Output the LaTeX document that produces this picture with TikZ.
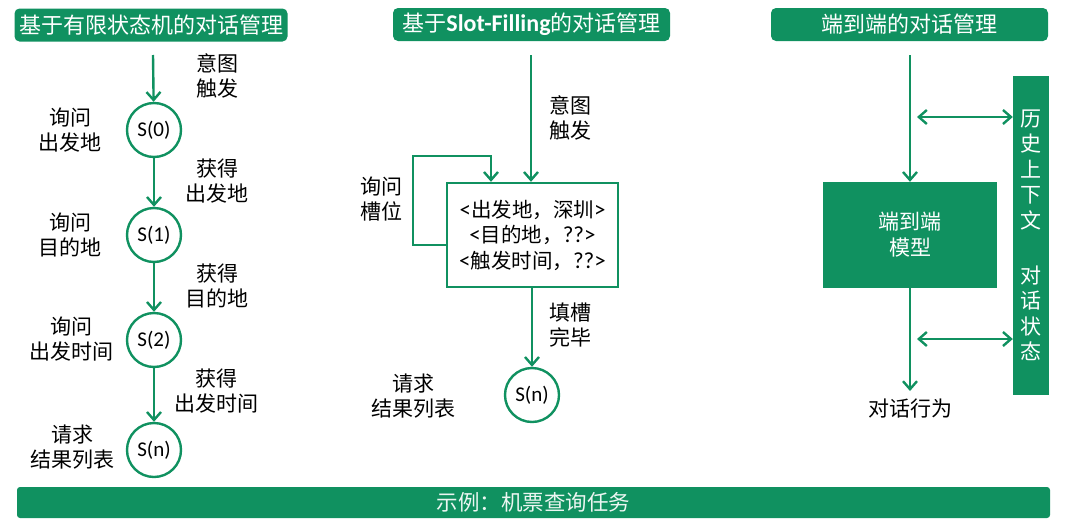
\documentclass[tikz,border=0pt]{standalone}
\usepackage{fontspec}
\setmainfont{Noto Sans CJK SC}
\newfontfamily\lat{Carlito}
\usetikzlibrary{arrows.meta}
\definecolor{gr}{RGB}{16,145,96}
\begin{document}
\begin{tikzpicture}[x=1pt,y=-1pt,
  flow/.style={draw=gr,line width=2.4pt,-{Straight Barb[length=8pt,width=14pt,line width=2.4pt]}},
  dflow/.style={draw=gr,line width=2.4pt,{Straight Barb[length=8pt,width=14pt,line width=2.4pt]}-{Straight Barb[length=8pt,width=14pt,line width=2.4pt]}},
  title/.style={fill=gr,rounded corners=5pt,text=white,font=\fontsize{22}{24}\selectfont,inner sep=0pt,minimum height=33pt},
  lbl/.style={align=center,font=\fontsize{21}{25.5}\selectfont,inner sep=0pt},
  st/.style={circle,draw=gr,line width=2.4pt,minimum size=54pt,inner sep=0pt,font=\lat\fontsize{21}{24}\selectfont},
  gbox/.style={fill=gr,text=white,inner sep=0pt}
]
\path[use as bounding box] (0,0) rectangle (1067,530);
% titles
\node[title,minimum width=273pt] (t1) at (151,25) {基于有限状态机的对话管理};
\node[title,minimum width=277pt] (t2) at (531.5,24.5) {基于{\lat\bfseries\fontsize{24}{24}\selectfont Slot-Filling}的对话管理};
\node[title,minimum width=277pt] (t3) at (909.5,24.5) {端到端的对话管理};
% bottom bar
\node[gbox,minimum width=1033pt,minimum height=31pt,rounded corners=3pt,text=white!92!gr,font=\fontsize{21.5}{22}\selectfont] (bar) at (533.5,502.5) {示例：机票查询任务};

% ---- left column
\coordinate (l0) at (153,55);
\node[st] (s0) at (154,130) {S(0)};
\node[st] (s1) at (154,235) {S(1)};
\node[st] (s2) at (154,340) {S(2)};
\node[st] (s3) at (154,450) {S(n)};
\draw[flow] (l0) -- (s0);
\draw[flow] (s0) -- (s1);
\draw[flow] (s1) -- (s2);
\draw[flow] (s2) -- (s3);
\node[lbl] (a0) at (217,76) {意图\\触发};
\node[lbl] (q0) at (70,130) {询问\\出发地};
\node[lbl] (g0) at (217,181) {获得\\出发地};
\node[lbl] (q1) at (70,235) {询问\\目的地};
\node[lbl] (g1) at (217,286) {获得\\目的地};
\node[lbl] (q2) at (71,339) {询问\\出发时间};
\node[lbl] (g2) at (216,391) {获得\\出发时间};
\node[lbl] (q3) at (72,447) {请求\\结果列表};

% ---- middle column
\coordinate (m0) at (531,55);
\node[draw=gr,line width=2.4pt,minimum width=171pt,minimum height=104pt,inner sep=0pt,align=center,font=\fontsize{20.5}{25.5}\selectfont] (box) at (532.5,235) {{\lat\fontsize{23}{24}\selectfont<}出发地，深圳{\lat\fontsize{23}{24}\selectfont>}\\{\lat\fontsize{23}{24}\selectfont<}目的地，{\lat\fontsize{23}{24}\selectfont??>}\\{\lat\fontsize{23}{24}\selectfont<}触发时间，{\lat\fontsize{23}{24}\selectfont??>}};
\node[st] (sm) at (532,395) {S(n)};
\draw[flow] (m0) -- (m0 |- box.north);
\coordinate (lp1) at (box.west |- 0,245);
\draw[flow] (lp1) -- (413,245) -- (413,156) -- (491,156) -- (491,0 |- box.north);
\draw[flow] (box.south -| sm) -- (sm);
\node[lbl] (ma) at (570,118) {意图\\触发};
\node[lbl] (mq) at (381,199) {询问\\槽位};
\node[lbl] (mf) at (570,325) {填槽\\完毕};
\node[lbl] (mr) at (413,396) {请求\\结果列表};

% ---- right column
\coordinate (r0) at (910,55);
\node[gbox,minimum width=174pt,minimum height=106pt,align=center,font=\fontsize{21}{26}\selectfont] (e2e) at (910,235) {端到端\\模型};
\coordinate (r1) at (910,391);
\draw[flow] (r0) -- (e2e);
\draw[flow] (e2e) -- (r1);
\node[lbl] (act) at (910,409) {对话行为};
\node[gbox,minimum width=36pt,minimum height=319pt,align=center,font=\fontsize{21}{25.5}\selectfont] (side) at (1031,235.5) {历\\史\\上\\下\\文\\[29.5pt]对\\话\\状\\态};
\coordinate (da) at (917,117);
\coordinate (db) at (917,339);
\draw[dflow] (da) -- (side.west |- da);
\draw[dflow] (db) -- (side.west |- db);
\end{tikzpicture}
\end{document}
